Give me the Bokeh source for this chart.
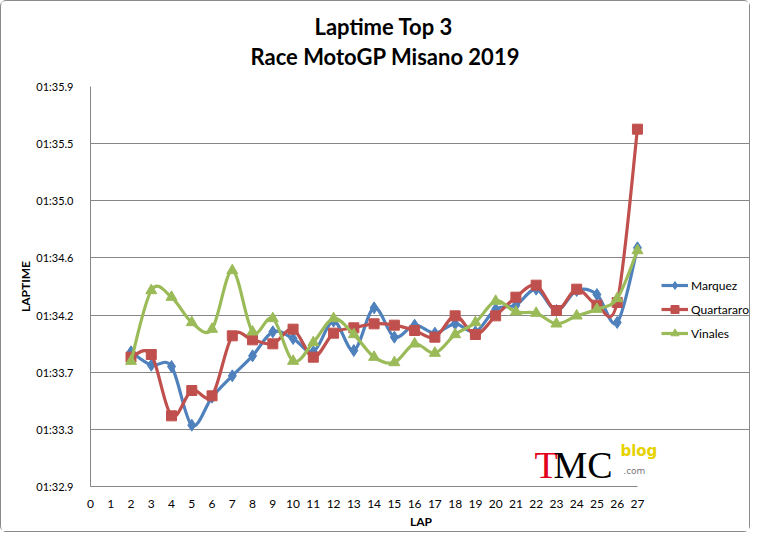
from bokeh.plotting import figure
from bokeh.models import FixedTicker, Title, Legend, LegendItem, Label
from bokeh.embed import file_html
from bokeh.resources import INLINE

laps = list(range(2, 28))
marquez = [93.89, 93.79, 93.78, 93.34, 93.55, 93.71, 93.86, 94.04, 93.99, 93.89,
           94.12, 93.90, 94.22, 94.00, 94.09, 94.03, 94.10, 94.04, 94.21, 94.24,
           94.36, 94.20, 94.35, 94.32, 94.11, 94.67]
quartararo = [93.85, 93.87, 93.41, 93.60, 93.56, 94.01, 93.98, 93.95, 94.06, 93.85,
              94.03, 94.07, 94.10, 94.09, 94.05, 94.00, 94.16, 94.02, 94.16, 94.30,
              94.39, 94.20, 94.36, 94.24, 94.26, 95.56]
vinales = [93.82, 94.35, 94.30, 94.11, 94.06, 94.50, 94.04, 94.14, 93.82, 93.96,
           94.14, 94.02, 93.85, 93.81, 93.95, 93.88, 94.02, 94.11, 94.27, 94.19,
           94.18, 94.10, 94.16, 94.21, 94.29, 94.65]
series_names = ["Marquez", "Quartararo", "Vinales"]
y_tick_values = [92.88, 93.309, 93.737, 94.166, 94.594, 95.023, 95.451, 95.88]
y_tick_labels = ["01:32.9", "01:33.3", "01:33.7", "01:34.2", "01:34.6", "01:35.0", "01:35.5", "01:35.9"]
x_ticks = list(range(0, 28))

FONT = "Lato"
GRID = "#868686"

p = figure(width=750, height=532, output_backend="svg", toolbar_location=None,
           title=None, x_range=(0, 32.63), y_range=(92.88, 95.88),
           min_border_left=89, min_border_right=0, min_border_top=85, min_border_bottom=47)
p.outline_line_color = None
p.background_fill_color = "white"
p.border_fill_color = "white"
p.styles = {"border": "1px solid #8a8a8a", "border-radius": "6px"}

p.add_layout(Title(text="Race MotoGP Misano 2019", align="left", offset=160, standoff=33,
                   text_font=FONT, text_font_size="22px", text_font_style="bold",
                   text_color="black"), "above")
p.add_layout(Title(text="Laptime Top 3", align="left", offset=224, standoff=-31,
                   text_font=FONT, text_font_size="22px", text_font_style="bold",
                   text_color="black"), "above")

p.xaxis.ticker = FixedTicker(ticks=x_ticks)
p.xaxis.bounds = (0, 27)
p.yaxis.ticker = FixedTicker(ticks=y_tick_values)
p.yaxis.major_label_overrides = {v: l for v, l in zip(y_tick_values, y_tick_labels)}
for ax in (p.xaxis, p.yaxis):
    ax.major_tick_line_color = None
    ax.minor_tick_line_color = None
    ax.axis_line_color = GRID
    ax.major_label_text_font = FONT
    ax.major_label_text_color = "black"
    ax.axis_label_text_font = FONT
    ax.axis_label_text_font_size = "12px"
    ax.axis_label_text_font_style = "bold"
    ax.axis_label_text_color = "black"
p.xaxis.major_label_text_font_size = "12px"
p.yaxis.major_label_text_font_size = "11px"
p.xaxis.axis_label = "LAP"
p.yaxis.axis_label = "LAPTIME"
p.xaxis.major_label_standoff = 7
p.yaxis.major_label_standoff = 11
p.xaxis.axis_label_standoff = 3
p.yaxis.axis_label_standoff = 0
p.xgrid.grid_line_color = None
p.ygrid.grid_line_color = GRID
p.ygrid.grid_line_width = 1
p.ygrid.bounds = (0, 27)

colors = ["#4F81BD", "#C0504D", "#9BBB59"]
markers = ["diamond", "square", "triangle"]
sizes = [12, 10, 11]
items = []
for name, vals, col, mk, sz in zip(series_names, [marquez, quartararo, vinales], colors, markers, sizes):
    n = len(laps)
    x0, y0, x1, y1, cx0, cy0, cx1, cy1 = [], [], [], [], [], [], [], []
    for i in range(n - 1):
        pa = (laps[max(i - 1, 0)], vals[max(i - 1, 0)])
        pb = (laps[i], vals[i])
        pc = (laps[i + 1], vals[i + 1])
        pd = (laps[min(i + 2, n - 1)], vals[min(i + 2, n - 1)])
        x0.append(pb[0]); y0.append(pb[1])
        x1.append(pc[0]); y1.append(pc[1])
        cx0.append(pb[0] + (pc[0] - pa[0]) / 6.0); cy0.append(pb[1] + (pc[1] - pa[1]) / 6.0)
        cx1.append(pc[0] - (pd[0] - pb[0]) / 6.0); cy1.append(pc[1] - (pd[1] - pb[1]) / 6.0)
    r1 = p.bezier(x0=x0, y0=y0, x1=x1, y1=y1, cx0=cx0, cy0=cy0, cx1=cx1, cy1=cy1,
                  line_color=col, line_width=3.2)
    r2 = p.scatter(laps, vals, marker=mk, size=sz, fill_color=col, line_color=col)
    items.append(LegendItem(label=name, renderers=[r1, r2]))

legend = Legend(items=items, location=(571, 143), padding=0, margin=0, spacing=4,
                glyph_height=20, glyph_width=27, label_standoff=3,
                label_text_font=FONT, label_text_font_size="12px", label_text_color="black",
                border_line_color=None, background_fill_alpha=0)
p.add_layout(legend, "center")

# watermark logo
p.add_layout(Label(x=21.92, y=93.04, text="T", text_font="Liberation Serif", text_font_size="38px",
                   text_baseline="alphabetic", text_color="#E3001B"))
p.add_layout(Label(x=22.85, y=93.04, text="MC", text_font="Liberation Serif", text_font_size="38px",
                   text_baseline="alphabetic", text_color="black"))
p.add_layout(Label(x=26.16, y=93.15, text="blog", text_font="DejaVu Sans", text_font_size="15px",
                   text_baseline="alphabetic", text_font_style="bold", text_color="#E6D200"))
p.add_layout(Label(x=26.3, y=93.0, text=".com", text_font="DejaVu Sans", text_font_size="9px",
                   text_baseline="alphabetic", text_color="#777777"))

open("out.html", "w").write(file_html(p, INLINE))
